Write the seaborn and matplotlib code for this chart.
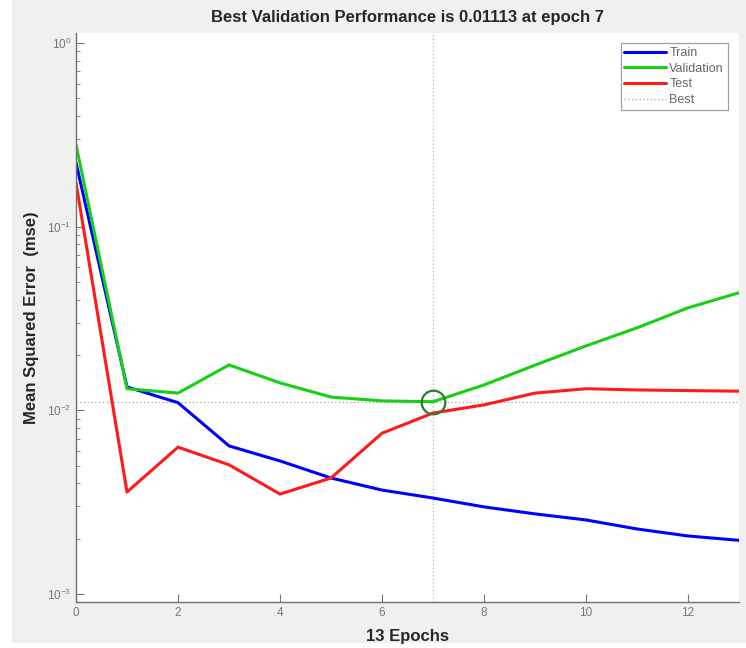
import numpy as np
import pandas as pd
import matplotlib
matplotlib.use("Agg")
import matplotlib.pyplot as plt
import seaborn as sns
from matplotlib.lines import Line2D
from matplotlib.patches import Rectangle

epochs = list(range(0, 14))
train = [0.222, 0.0134, 0.0110, 0.0064, 0.0053, 0.00428, 0.00368, 0.00333, 0.00298, 0.00273, 0.00253, 0.00226, 0.00207, 0.00196]
validation = [0.279, 0.0131, 0.0124, 0.01765, 0.0141, 0.0118, 0.01125, 0.01113, 0.01374, 0.0176, 0.0224, 0.0281, 0.0361, 0.0436]
test = [0.173, 0.00359, 0.0063, 0.00505, 0.0035, 0.00428, 0.0075, 0.00966, 0.0107, 0.0124, 0.0131, 0.0129, 0.0128, 0.0127]
series_names = ["Train", "Validation", "Test"]
series_colors = ["#0000ff", "#16d016", "#ff1a1a"]
best_epoch = 7
best_perf = 0.01113
x_ticks = [0, 2, 4, 6, 8, 10, 12]
title_text = "Best Validation Performance is 0.01113 at epoch 7"
xlabel_text = "13 Epochs"
ylabel_text = "Mean Squared Error  (mse)"

df = pd.DataFrame({
    "epoch": epochs * 3,
    "mse": train + validation + test,
    "series": ["Train"] * len(epochs) + ["Validation"] * len(epochs) + ["Test"] * len(epochs),
})

sns.set_style("ticks")
plt.rcParams["font.family"] = ["Liberation Sans", "DejaVu Sans"]

fig = plt.figure(figsize=(7.46, 6.48), dpi=100, facecolor="#f0f0f0")
# white screenshot margins
fig.patches.append(Rectangle((0, 0), 12 / 746, 1, transform=fig.transFigure,
                             facecolor="white", edgecolor="none", zorder=-10))
fig.patches.append(Rectangle((0, 0), 1, 5 / 648, transform=fig.transFigure,
                             facecolor="white", edgecolor="none", zorder=-10))

ax = fig.add_axes([76 / 746, 1 - 602 / 648, (739 - 76) / 746, (602 - 33) / 648])
ax.set_facecolor("white")

sns.lineplot(data=df, x="epoch", y="mse", hue="series", hue_order=series_names,
             palette=series_colors, linewidth=2.2, ax=ax, legend=False)

ax.set_yscale("log")
ax.set_xlim(0, 13)
ax.set_ylim(9.05e-4, 1.13)

# best lines
ax.axvline(best_epoch, color="#b0b0b0", linestyle=(0, (1, 2)), linewidth=0.9, zorder=0)
ax.axhline(best_perf, color="#a0a0a0", linestyle=(0, (1, 2)), linewidth=0.9, zorder=0)
ax.plot([best_epoch], [best_perf], marker="o", markersize=17, markerfacecolor="none",
        markeredgecolor="#2f7a2f", markeredgewidth=1.6, linestyle="none")

ax.set_xticks(x_ticks)
ax.set_xticklabels([str(t) for t in x_ticks])
ax.tick_params(axis="both", which="both", direction="in", colors="#777777", labelsize=8.5)
ax.tick_params(axis="both", which="major", length=6)
ax.tick_params(axis="y", which="minor", length=3)
for s in ["top", "right"]:
    ax.spines[s].set_visible(False)
for s in ["left", "bottom"]:
    ax.spines[s].set_color("#707070")
    ax.spines[s].set_linewidth(1.0)

ax.set_title(title_text, fontsize=12, fontweight="bold", color="#262626", pad=8)
ax.set_xlabel(xlabel_text, fontsize=12, fontweight="bold", color="#262626", labelpad=7)
ax.set_ylabel(ylabel_text, fontsize=12, fontweight="bold", color="#262626")
ax.yaxis.set_label_coords(-0.056, 0.5)

handles = [Line2D([0], [0], color=c, linewidth=2.2) for c in series_colors]
handles.append(Line2D([0], [0], color="#a0a0a0", linestyle=(0, (1, 2)), linewidth=0.9))
leg = ax.legend(handles, series_names + ["Best"], loc="upper right", fontsize=9,
                frameon=True, fancybox=False, edgecolor="#888888", handlelength=3.3,
                labelspacing=0.3, borderpad=0.3, handletextpad=0.3, borderaxespad=0,
                bbox_to_anchor=(0.983, 0.982))
leg.get_frame().set_linewidth(0.9)
for t in leg.get_texts():
    t.set_color("#666666")

fig.savefig("out.png", dpi=100, facecolor=fig.get_facecolor())
